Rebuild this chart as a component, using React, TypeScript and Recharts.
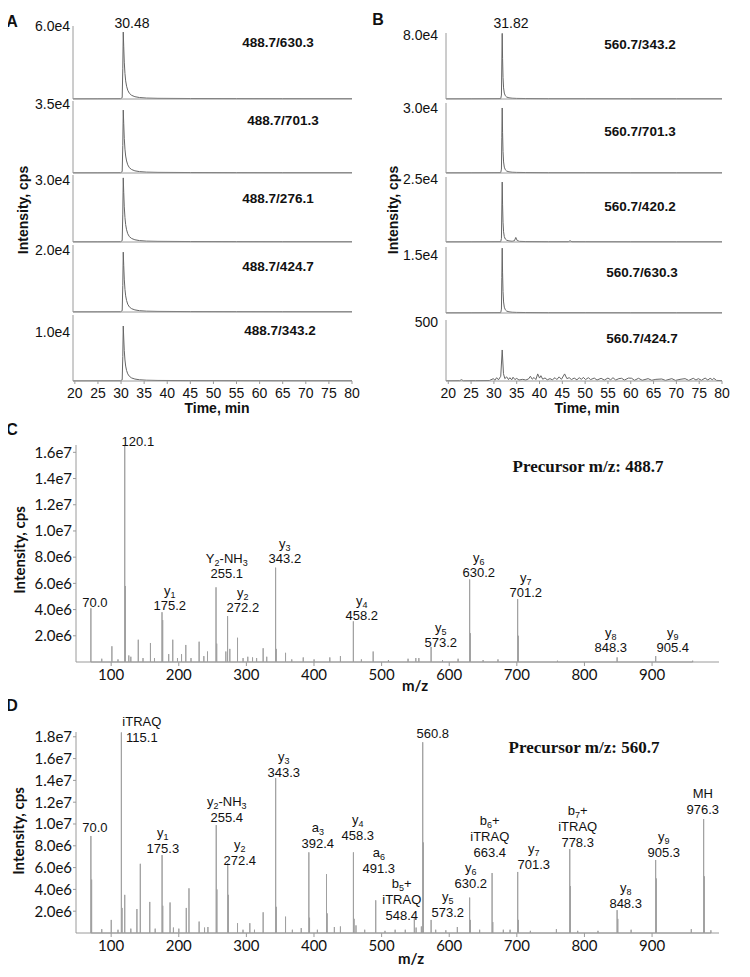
import React from 'react';
import { LineChart, Line, XAxis, YAxis, ComposedChart, Scatter } from 'recharts';

const SANS = '"Liberation Sans", Arial, sans-serif';
const SERIF = '"Liberation Serif", "Times New Roman", serif';
const CAL = 'Lato, "Open Sans", sans-serif';

// ---------- Panel A: XIC traces, precursor 488.7 ----------
const TIME_A = [19.6, 25, 29.9, 30.25, 30.38, 30.48, 30.58, 30.7, 30.85, 31.0, 31.2, 31.45, 31.8, 32.3, 33.0, 34.0, 35.5, 38, 45, 55, 65, 80];
const A_630 = [165, 220, 275, 1100, 24800, 55000, 42900, 30300, 20900, 14900, 10500, 7200, 4700, 3000, 1900, 1200, 770, 550, 390, 330, 280, 270];
const A_701 = [110, 130, 160, 700, 14000, 31900, 25000, 17600, 12100, 8600, 6100, 4150, 2700, 1750, 1100, 700, 450, 320, 230, 190, 160, 160];
const A_276 = [100, 120, 150, 650, 13500, 31000, 24000, 17000, 11800, 8400, 5900, 4000, 2600, 1700, 1080, 680, 430, 310, 220, 185, 155, 150];
const A_424 = [60, 75, 95, 420, 8600, 19300, 15000, 10600, 7300, 5200, 3700, 2500, 1640, 1060, 680, 420, 270, 195, 135, 115, 100, 95];
const A_343 = [35, 45, 55, 240, 5000, 11250, 8800, 6200, 4300, 3050, 2150, 1460, 960, 620, 400, 250, 160, 115, 80, 68, 58, 56];
const A_LABELS = ['488.7/630.3', '488.7/701.3', '488.7/276.1', '488.7/424.7', '488.7/343.2'];
const A_YMAX = [6.0e4, 3.65e4, 3.24e4, 2.16e4, 1.35e4];
const A_YTICK = [6.0e4, 3.5e4, 3.0e4, 2.0e4, 1.0e4];

// ---------- Panel B: XIC traces, precursor 560.7 ----------
const TIME_B = [19.5, 25, 31.5, 31.65, 31.74, 31.82, 31.9, 32.0, 32.12, 32.28, 32.5, 32.8, 33.3, 34.0, 35.0, 37, 42, 50, 60, 70, 80];
const B_343 = [250, 330, 490, 4900, 45000, 82000, 50800, 27000, 13900, 7400, 4100, 2460, 1480, 980, 740, 570, 410, 400, 330, 330, 320];
const B_701 = [90, 120, 180, 1800, 16500, 30000, 18600, 9900, 5100, 2700, 1500, 900, 540, 360, 270, 210, 150, 150, 120, 120, 120];
const TIME_B3 = [19.5, 25, 31.5, 31.65, 31.74, 31.82, 31.9, 32.0, 32.12, 32.28, 32.5, 32.8, 33.3, 34.0, 34.5, 34.8, 35.1, 35.6, 37, 42, 46.3, 46.7, 47.1, 50, 60, 70, 80];
const B_420 = [70, 95, 140, 1430, 13100, 23800, 14750, 7850, 4050, 2140, 1190, 715, 430, 290, 500, 1800, 600, 260, 170, 120, 130, 480, 130, 120, 100, 95, 95];
const B_630 = [50, 67, 100, 1000, 9200, 16800, 10400, 5550, 2860, 1510, 840, 500, 300, 200, 150, 118, 84, 84, 67, 67, 67];
const TIME_B5 = [19.5, 22.5, 22.9, 23.3, 26, 29, 29.9, 30.2, 30.6, 31.0, 31.5, 31.82, 32.1, 32.4, 32.8, 33.2, 33.5, 33.9, 34.2, 34.6, 35.0, 35.5, 36.3, 37.0, 37.6, 38.0, 38.4, 38.8, 39.2, 39.6, 40.0, 40.3, 40.7, 41.2, 41.7, 42.3, 42.8, 43.4, 43.8, 44.3, 44.8, 45.5, 46.0, 46.5, 47.0, 47.6, 48.2, 48.7, 49.2, 49.6, 50.1, 50.7, 51.2, 52.0, 52.6, 53.5, 54.2, 55.0, 55.6, 56.1, 56.7, 57.4, 58.0, 58.6, 59.5, 60.2, 60.8, 61.7, 62.5, 63.8, 64.6, 65.5, 66.8, 67.6, 69.0, 69.8, 70.8, 71.9, 72.7, 73.7, 74.3, 74.8, 75.5, 76.3, 76.9, 77.4, 77.9, 78.2, 78.8, 80];
const B_424 = [2, 3, 11, 2, 3, 4, 20, 6, 28, 10, 40, 263, 62, 20, 35, 12, 28, 10, 32, 12, 22, 8, 14, 8, 18, 40, 15, 30, 12, 60, 25, 45, 15, 26, 10, 20, 10, 28, 12, 35, 14, 60, 20, 28, 12, 25, 10, 28, 14, 31, 12, 28, 12, 25, 8, 23, 8, 25, 10, 28, 8, 20, 23, 8, 25, 23, 6, 23, 6, 20, 6, 14, 17, 5, 20, 5, 14, 20, 5, 23, 8, 20, 6, 25, 8, 23, 10, 23, 5, 3];
const B_LABELS = ['560.7/343.2', '560.7/701.3', '560.7/420.2', '560.7/630.3', '560.7/424.7'];
const B_YMAX = [8.25e4, 3.23e4, 2.58e4, 1.71e4, 517];
const B_YTICK = [8.0e4, 3.0e4, 2.5e4, 1.5e4, 500];

const TIME_TICKS = [20, 25, 30, 35, 40, 45, 50, 55, 60, 65, 70, 75, 80];

// ---------- Panel C: MS/MS spectrum, precursor 488.7 ----------
const C_MZ = [70.0, 86.1, 101.1, 110.1, 120.1, 121.1, 126.1, 129.1, 140.1, 147.1, 158.1, 164.1, 175.2, 176.2, 185.1, 191.1, 198.1, 204.1, 210.4, 218.1, 230.1, 237.1, 242.5, 255.1, 256.1, 269.6, 272.2, 275.5, 286.9, 295.1, 302.1, 309.1, 315.1, 324.8, 330.1, 343.2, 344.2, 357.9, 367.1, 384.1, 400.1, 423.4, 439.1, 458.2, 470.1, 487.5, 510.1, 539.1, 550.6, 555.1, 573.2, 590.1, 613.1, 630.2, 631.2, 650.1, 672.1, 701.2, 702.2, 760.1, 848.3, 905.4, 960.0];
const C_INT = [4.1e6, 0.25e6, 1.2e6, 0.2e6, 16.5e6, 5.8e6, 0.5e6, 0.4e6, 1.7e6, 0.3e6, 1.45e6, 0.3e6, 3.8e6, 3.2e6, 0.6e6, 1.7e6, 0.3e6, 0.6e6, 1.3e6, 0.3e6, 1.55e6, 0.45e6, 0.8e6, 5.7e6, 1.4e6, 0.8e6, 3.5e6, 1.0e6, 1.85e6, 0.3e6, 0.4e6, 0.35e6, 0.3e6, 1.05e6, 0.4e6, 7.2e6, 1.0e6, 0.7e6, 0.2e6, 0.35e6, 0.2e6, 0.35e6, 0.45e6, 3.1e6, 0.2e6, 0.8e6, 0.15e6, 0.25e6, 0.3e6, 0.3e6, 1.15e6, 0.15e6, 0.25e6, 6.3e6, 2.2e6, 0.15e6, 0.2e6, 4.8e6, 2.0e6, 0.1e6, 0.35e6, 0.45e6, 0.1e6];
const C_ANN_MZ = [76.0, 139.5, 186.8, 271, 294.8, 356.9, 470.7, 587.5, 643.7, 713.2, 838.9, 930.6];
const C_ANN_AT = [4.2e6, 16.5e6, 3.97e6, 6.4e6, 3.8e6, 7.56e6, 3.2e6, 1.15e6, 6.5e6, 4.96e6, 0.76e6, 0.76e6];
const C_ANN_TEXT = [['70.0'], ['120.1'], ['y_1', '175.2'], ['Y_2-NH_3', '255.1'], ['y_2', '272.2'], ['y_3', '343.2'], ['y_4', '458.2'], ['y_5', '573.2'], ['y_6', '630.2'], ['y_7', '701.2'], ['y_8', '848.3'], ['y_9', '905.4']];
const C_Y_TICKS = [2e6, 4e6, 6e6, 8e6, 1e7, 1.2e7, 1.4e7, 1.6e7];

// ---------- Panel D: MS/MS spectrum, precursor 560.7 ----------
const D_MZ = [70.0, 71.1, 86.1, 100.1, 110.1, 115.1, 116.1, 120.1, 129.1, 138.1, 143.1, 157.1, 165.1, 175.3, 176.3, 187.1, 192.1, 200.1, 211.1, 215.1, 230.1, 238.1, 243.1, 255.4, 256.4, 272.4, 273.4, 286.9, 295.0, 305.1, 312.0, 324.8, 343.3, 344.3, 357.9, 368.0, 381.1, 392.4, 393.4, 405.0, 418.5, 419.5, 430.1, 439.1, 458.3, 459.3, 462.1, 475.0, 491.3, 505.0, 520.0, 535.0, 548.4, 551.0, 558.8, 560.8, 561.8, 573.2, 580.0, 595.0, 612.0, 630.2, 631.2, 645.0, 663.4, 664.4, 680.0, 690.0, 701.3, 702.3, 720.0, 758.5, 778.3, 779.3, 790.0, 820.0, 848.3, 849.3, 869.0, 905.3, 906.3, 958.0, 976.3, 977.3, 987.0];
const D_INT = [8.9e6, 4.9e6, 0.35e6, 1.2e6, 0.3e6, 18.4e6, 2.3e6, 3.5e6, 0.4e6, 2.2e6, 6.35e6, 2.85e6, 0.4e6, 7.15e6, 2.5e6, 2.8e6, 0.5e6, 0.4e6, 2.3e6, 4.1e6, 1.05e6, 0.5e6, 0.55e6, 9.9e6, 4.0e6, 6.4e6, 3.5e6, 0.9e6, 0.3e6, 0.9e6, 0.3e6, 1.9e6, 14.2e6, 2.4e6, 1.5e6, 0.3e6, 0.45e6, 7.4e6, 1.4e6, 0.3e6, 5.4e6, 1.8e6, 0.55e6, 0.6e6, 7.4e6, 1.3e6, 0.7e6, 0.3e6, 3.0e6, 0.2e6, 0.3e6, 0.3e6, 1.4e6, 0.5e6, 0.6e6, 17.5e6, 8.3e6, 1.2e6, 0.3e6, 0.25e6, 0.55e6, 3.25e6, 1.2e6, 0.3e6, 5.5e6, 1.0e6, 0.3e6, 0.3e6, 5.6e6, 1.2e6, 0.2e6, 0.35e6, 7.7e6, 4.3e6, 0.2e6, 0.2e6, 2.1e6, 1.3e6, 0.3e6, 6.7e6, 5.0e6, 0.35e6, 10.45e6, 5.2e6, 0.25e6];
const D_ANN_MZ = [76.0, 145.4, 176.5, 271, 290.3, 355.4, 405.6, 464.8, 495.8, 529.8, 575.7, 597.9, 631.9, 660, 725, 790, 861, 917.3, 975];
const D_ANN_AT = [9.27e6, 17.5e6, 7.34e6, 10.2e6, 6.24e6, 14.3e6, 7.8e6, 8.53e6, 5.5e6, 1.19e6, 17.9e6, 1.47e6, 4.13e6, 6.97e6, 5.87e6, 7.9e6, 2.3e6, 6.97e6, 10.9e6];
const D_ANN_TEXT = [['70.0'], ['iTRAQ', '115.1'], ['y_1', '175.3'], ['y_2-NH_3', '255.4'], ['y_2', '272.4'], ['y_3', '343.3'], ['a_3', '392.4'], ['y_4', '458.3'], ['a_6', '491.3'], ['b_5+', 'iTRAQ', '548.4'], ['560.8'], ['y_5', '573.2'], ['y_6', '630.2'], ['b_6+', 'iTRAQ', '663.4'], ['y_7', '701.3'], ['b_7+', 'iTRAQ', '778.3'], ['y_8', '848.3'], ['y_9', '905.3'], ['MH', '976.3']];
const D_Y_TICKS = [2e6, 4e6, 6e6, 8e6, 1e7, 1.2e7, 1.4e7, 1.6e7, 1.8e7];

const MZ_TICKS = [100, 200, 300, 400, 500, 600, 700, 800, 900];

const fmtExp = (v: number) => (v >= 1000 ? v.toExponential(1).replace('+', '') : String(v));

// ---------- components ----------
type ChromProps = {
  time: number[]; values: number[]; plotLeft: number; plotRight: number; top: number; bottom: number;
  yMax: number; yTick: number; xDomain: [number, number]; showX: boolean; labelGap: number;
};

function Chrom(p: ChromProps) {
  const yW = 60, mTop = 14, mRight = 20;
  const xH = p.showX ? 30 : 4;
  const w = p.plotRight - p.plotLeft + yW + mRight;
  const h = mTop + (p.bottom - p.top) + xH;
  const data = p.time.map((t, i) => ({ t, v: p.values[i] }));
  return (
    <div style={{ position: 'absolute', left: p.plotLeft - yW, top: p.top - mTop }}>
      <LineChart width={w} height={h} data={data} margin={{ top: mTop, right: mRight, bottom: 0, left: 0 }}>
        <XAxis type="number" dataKey="t" domain={p.xDomain} ticks={TIME_TICKS} interval={0} height={xH}
          stroke="#9a9a9a" tickSize={3} tickMargin={4}
          tick={p.showX ? { fill: '#111', fontSize: 14, fontFamily: SANS } : false} />
        <YAxis type="number" domain={[0, p.yMax]} ticks={[p.yTick]} interval={0} width={yW} stroke="#9a9a9a"
          tickLine={false} tickSize={0} tickMargin={p.labelGap}
          tick={{ fill: '#111', fontSize: 14, fontFamily: SANS }} tickFormatter={fmtExp} />
        <Line type="linear" dataKey="v" stroke="#666" strokeWidth={1} dot={false} activeDot={false} isAnimationActive={false} />
      </LineChart>
    </div>
  );
}

function segments(s: string) {
  const segs: { t: string; sub: boolean }[] = [];
  let i = 0;
  while (i < s.length) {
    if (s[i] === '_' && i + 1 < s.length) {
      segs.push({ t: s[i + 1], sub: true });
      i += 2;
    } else {
      const last = segs[segs.length - 1];
      if (last && !last.sub) last.t += s[i];
      else segs.push({ t: s[i], sub: false });
      i += 1;
    }
  }
  return segs;
}

function Annot(props: any) {
  const { cx, cy, payload, lineH } = props;
  if (cx == null || cy == null) return null;
  const lines: string[] = payload.lines;
  const n = lines.length;
  return (
    <text x={cx} y={cy} textAnchor="middle" fontFamily={SANS} fontSize={13} fill="#111">
      {lines.map((ln, li) => {
        const segs = segments(ln);
        let prevSub = false;
        return (
          <tspan key={li} x={cx} y={cy - (n - 1 - li) * lineH}>
            {segs.map((sg, si) => {
              const dy = (sg.sub ? 3 : 0) - (prevSub ? 3 : 0);
              prevSub = sg.sub;
              return (
                <tspan key={si} dy={dy} fontSize={sg.sub ? 9 : 13}>{sg.t}</tspan>
              );
            })}
          </tspan>
        );
      })}
    </text>
  );
}

type SpecProps = {
  mz: number[]; inten: number[]; annMz: number[]; annAt: number[]; annText: string[][];
  top: number; plotTop: number; plotBottom: number; yMax: number; yTicks: number[]; lineH: number;
};

function Spectrum(p: SpecProps) {
  const yW = 60, mRight = 25, xH = 30, plotLeft = 76, plotRight = 719;
  const mTop = p.plotTop - p.top;
  const w = plotRight - plotLeft + yW + mRight;
  const h = mTop + (p.plotBottom - p.plotTop) + xH;
  const sticks: { x: number; y: number }[] = [];
  p.mz.forEach((m, i) => {
    sticks.push({ x: m, y: 0 }, { x: m, y: p.inten[i] }, { x: m, y: 0 });
  });
  const ann = p.annMz.map((x, i) => ({ x, y: p.annAt[i], lines: p.annText[i] }));
  return (
    <div style={{ position: 'absolute', left: plotLeft - yW, top: p.top }}>
      <ComposedChart width={w} height={h} margin={{ top: mTop, right: mRight, bottom: 0, left: 0 }}>
        <XAxis type="number" dataKey="x" domain={[48, 999]} ticks={MZ_TICKS} interval={0} height={xH}
          stroke="#9a9a9a" tickSize={4} tickMargin={3}
          tick={{ fill: '#111', fontSize: 15, fontFamily: CAL }} />
        <YAxis type="number" domain={[0, p.yMax]} ticks={p.yTicks} interval={0} width={yW} stroke="#9a9a9a"
          tickSize={3} tickMargin={1} tick={{ fill: '#111', fontSize: 15, fontFamily: CAL }} tickFormatter={fmtExp} />
        <Line data={sticks} type="linear" dataKey="y" stroke="#a0a0a0" strokeWidth={1} dot={false} activeDot={false} isAnimationActive={false} />
        <Scatter data={ann} dataKey="y" isAnimationActive={false}
          shape={(sp: any) => <Annot {...sp} lineH={p.lineH} />} />
      </ComposedChart>
    </div>
  );
}

function Txt(props: { x: number; y: number; size: number; bold?: boolean; family: string; rotate?: boolean; children: React.ReactNode }) {
  return (
    <div style={{
      position: 'absolute', left: props.x, top: props.y,
      transform: `translate(-50%, -50%)${props.rotate ? ' rotate(-90deg)' : ''}`,
      fontSize: props.size, fontWeight: props.bold ? 700 : 400, fontFamily: props.family,
      whiteSpace: 'nowrap', lineHeight: 1, color: '#111',
    }}>{props.children}</div>
  );
}

// layout of the stacked chromatogram rows (pixels)
const A_ROWS = [[26, 99], [101, 173], [175, 242], [245, 312], [315, 381]];
const B_ROWS = [[33, 99], [103, 173], [177, 242], [247, 313], [320, 381]];
const A_LABEL_POS = [[278, 43], [283, 121], [278, 199], [278, 267], [280, 331]];
const B_LABEL_POS = [[640, 45], [640, 132], [640, 207], [642, 273], [642, 339]];

export default function App() {
  const aTimes = [TIME_A, TIME_A, TIME_A, TIME_A, TIME_A];
  const aVals = [A_630, A_701, A_276, A_424, A_343];
  const bTimes = [TIME_B, TIME_B, TIME_B3, TIME_B, TIME_B5];
  const bVals = [B_343, B_701, B_420, B_630, B_424];
  return (
    <div style={{ position: 'relative', width: 750, height: 977, margin: '-8px 0 0 -8px', background: '#fff', overflow: 'hidden' }}>
      {aVals.map((v, i) => (
        <Chrom key={'a' + i} time={aTimes[i]} values={v} plotLeft={73} plotRight={352}
          top={A_ROWS[i][0]} bottom={A_ROWS[i][1]} yMax={A_YMAX[i]} yTick={A_YTICK[i]}
          xDomain={[19.6, 80]} showX={i === 4} labelGap={3} />
      ))}
      {bVals.map((v, i) => (
        <Chrom key={'b' + i} time={bTimes[i]} values={v} plotLeft={446} plotRight={722}
          top={B_ROWS[i][0]} bottom={B_ROWS[i][1]} yMax={B_YMAX[i]} yTick={B_YTICK[i]}
          xDomain={[19.5, 80]} showX={i === 4} labelGap={8} />
      ))}

      <Spectrum mz={C_MZ} inten={C_INT} annMz={C_ANN_MZ} annAt={C_ANN_AT} annText={C_ANN_TEXT}
        top={420} plotTop={445} plotBottom={662} yMax={1.656e7} yTicks={C_Y_TICKS} lineH={15} />
      <Spectrum mz={D_MZ} inten={D_INT} annMz={D_ANN_MZ} annAt={D_ANN_AT} annText={D_ANN_TEXT}
        top={700} plotTop={732} plotBottom={933} yMax={1.844e7} yTicks={D_Y_TICKS} lineH={16} />

      {A_LABELS.map((l, i) => (
        <Txt key={'al' + i} x={A_LABEL_POS[i][0]} y={A_LABEL_POS[i][1]} size={13.5} bold family={SANS}>{l}</Txt>
      ))}
      {B_LABELS.map((l, i) => (
        <Txt key={'bl' + i} x={B_LABEL_POS[i][0]} y={B_LABEL_POS[i][1]} size={13.5} bold family={SANS}>{l}</Txt>
      ))}

      <Txt x={12} y={22} size={16} bold family={SANS}>A</Txt>
      <Txt x={378} y={20} size={16} bold family={SANS}>B</Txt>
      <Txt x={12} y={430} size={16} bold family={SANS}>C</Txt>
      <Txt x={12} y={706} size={16} bold family={SANS}>D</Txt>

      <Txt x={132} y={23} size={14} family={SANS}>30.48</Txt>
      <Txt x={511} y={23} size={14} family={SANS}>31.82</Txt>

      <Txt x={23} y={210} size={14} bold family={SANS} rotate>Intensity, cps</Txt>
      <Txt x={393} y={210} size={14} bold family={SANS} rotate>Intensity, cps</Txt>
      <Txt x={217} y={408} size={14} bold family={SANS}>Time, min</Txt>
      <Txt x={587} y={408} size={14} bold family={SANS}>Time, min</Txt>

      <Txt x={19} y={550} size={15} bold family={CAL} rotate>Intensity, cps</Txt>
      <Txt x={18} y={831} size={15} bold family={CAL} rotate>Intensity, cps</Txt>
      <Txt x={415} y={685} size={15} bold family={CAL}>m/z</Txt>
      <Txt x={411} y={958} size={15} bold family={CAL}>m/z</Txt>

      <Txt x={588} y={466} size={17} bold family={SERIF}>Precursor m/z: 488.7</Txt>
      <Txt x={584} y={747} size={17} bold family={SERIF}>Precursor m/z: 560.7</Txt>
    </div>
  );
}
